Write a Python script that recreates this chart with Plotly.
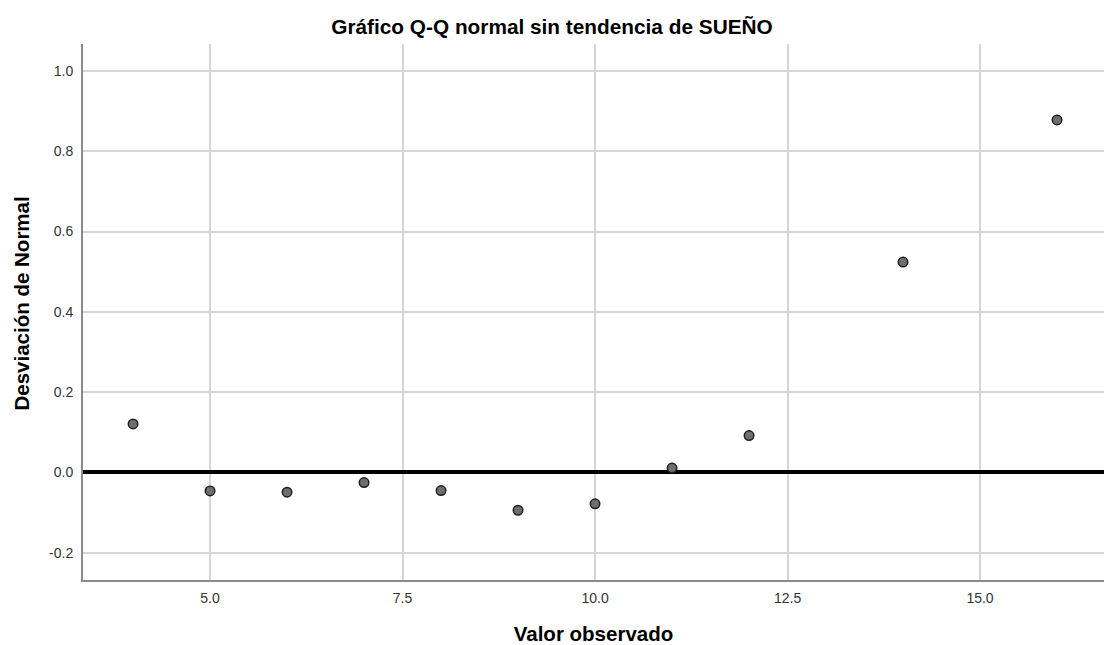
import plotly.graph_objects as go

# Detrended normal Q-Q data for SUEÑO
observed = [4, 5, 6, 7, 8, 9, 10, 11, 12, 14, 16]
deviation = [0.121, -0.046, -0.049, -0.025, -0.045, -0.094, -0.078, 0.011, 0.092, 0.524, 0.878]

x_ticks = [5.0, 7.5, 10.0, 12.5, 15.0]
y_ticks = [-0.2, 0.0, 0.2, 0.4, 0.6, 0.8, 1.0]

FONT = "Liberation Sans, Arial, sans-serif"

fig = go.Figure()

fig.add_trace(go.Scatter(
    x=observed,
    y=deviation,
    mode="markers",
    marker=dict(size=9.5, color="#6e6e6e", line=dict(color="#1e1e1e", width=1.5)),
    showlegend=False,
    hoverinfo="x+y",
))

fig.update_layout(
    width=1104,
    height=645,
    margin=dict(l=83, r=0, t=44, b=65),
    paper_bgcolor="white",
    plot_bgcolor="white",
    title=dict(
        text="<b>Gráfico Q-Q normal sin tendencia de SUEÑO</b>",
        font=dict(family=FONT, size=20.8, color="#000000"),
        xref="container", x=0.5, xanchor="center",
        yref="container", y=1 - 27 / 645, yanchor="middle",
    ),
    xaxis=dict(
        range=[3.35, 16.61],
        tickvals=x_ticks,
        ticktext=[f"{v:.1f}" for v in x_ticks],
        showgrid=True, gridcolor="#d6d6d6", gridwidth=1.5,
        zeroline=False,
        showline=True, linecolor="#8a8a8a", linewidth=2,
        ticks="", ticklabelstandoff=4,
        tickfont=dict(family=FONT, size=14, color="#333333"),
        title=dict(text="<b>Valor observado</b>", standoff=25,
                   font=dict(family=FONT, size=20.5, color="#000000")),
    ),
    yaxis=dict(
        range=[-0.2677, 1.067],
        tickvals=y_ticks,
        ticktext=[f"{v:.1f}" for v in y_ticks],
        showgrid=True, gridcolor="#d6d6d6", gridwidth=1.5,
        zeroline=True, zerolinecolor="#000000", zerolinewidth=3.5,
        showline=True, linecolor="#8a8a8a", linewidth=2,
        ticks="", ticklabelstandoff=5,
        tickfont=dict(family=FONT, size=14, color="#333333"),
    ),
    annotations=[dict(
        text="<b>Desviación de Normal</b>",
        textangle=-90,
        xref="paper", yref="paper",
        x=(20.5 - 83) / 1021, y=(580 - 304) / 536,
        xanchor="center", yanchor="middle",
        showarrow=False,
        font=dict(family=FONT, size=20.5, color="#000000"),
    )],
)

fig.write_html("out.html")
